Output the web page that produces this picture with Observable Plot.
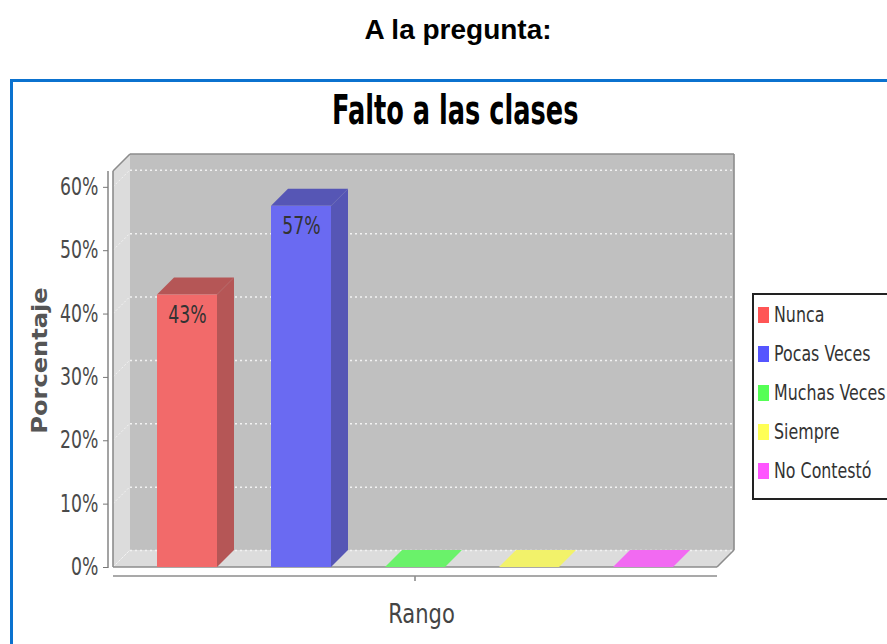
<!DOCTYPE html>
<html>
<head>
<meta charset="utf-8">
<script src="https://cdn.jsdelivr.net/npm/d3@7"></script>
<script src="https://cdn.jsdelivr.net/npm/@observablehq/plot@0.6"></script>
<style>
html,body{margin:0;padding:0;background:#fff;}
body{width:887px;height:644px;overflow:hidden;position:relative;}
#chart{position:absolute;left:0;top:0;}
#frameBox{position:absolute;left:10px;top:79px;width:940px;height:640px;border:3px solid #0b72cf;box-sizing:border-box;pointer-events:none;}
#heading{position:absolute;left:0;top:16px;width:916px;text-align:center;font:bold 28px/28px "Liberation Sans",Arial,sans-serif;color:#000;}
#title{position:absolute;left:0;top:90px;width:911px;text-align:center;font:bold 41px/41px "DejaVu Sans",sans-serif;color:#000;white-space:nowrap;}
#title span{display:inline-block;transform:scaleX(0.625);transform-origin:center;}
#legend{position:absolute;left:752px;top:293px;width:170px;height:207px;border:2px solid #222;box-sizing:border-box;background:#fff;}
.item{height:39px;display:flex;align-items:center;font:22px/22px "DejaVu Sans",sans-serif;color:#333;white-space:nowrap;}
.sw{width:11px;height:16px;margin-left:4px;margin-right:5px;flex:none;}
.lab{display:inline-block;transform:scaleX(0.72);transform-origin:left center;}
</style>
</head>
<body>
<div id="chart"></div>
<div id="frameBox"></div>
<div id="heading">A la pregunta:</div>
<div id="title"><span>Falto a las clases</span></div>
<div id="legend"></div>
<script>
// ---- data ----
const categories = ["Nunca", "Pocas Veces", "Muchas Veces", "Siempre", "No Contestó"];
const percentages = [43, 57, 0, 0, 0];
const seriesColors = ["#ff5555", "#5555ff", "#55ff55", "#ffff55", "#ff55ff"];
const yTicks = [0, 10, 20, 30, 40, 50, 60];
const yMax = 62.5;
const xLabel = "Rango";
const yLabel = "Porcentaje";

// ---- styles ----
const D = 17; // 3D depth in px
const wallGray = "#c0c0c0";
const frontColors = seriesColors.map(c => d3.interpolateRgb(wallGray, c)(0.8));
const sideColors = seriesColors.map(c => d3.interpolateRgb(wallGray, d3.rgb(c).darker(1))(0.8));
const edge = "#8c8c8c";

const rows = categories.map((c, i) => ({category: c, value: percentages[i]}));

function pts(arr) { return arr.map(p => p.join(",")).join(" "); }

function walls(index, scales, values, dims) {
  const y = scales.y;
  const xL = dims.marginLeft, xR = dims.width - dims.marginRight;
  const yT = dims.marginTop, yB = dims.height - dims.marginBottom;
  const g = d3.create("svg:g");
  g.append("polygon").attr("points", pts([[xL+D,yT-D],[xR+D,yT-D],[xR+D,yB-D],[xL+D,yB-D]])).attr("fill", wallGray);
  g.append("polygon").attr("points", pts([[xL,yT],[xL+D,yT-D],[xL+D,yB-D],[xL,yB]])).attr("fill", "#dcdcdc");
  g.append("polygon").attr("points", pts([[xL,yB],[xL+D,yB-D],[xR+D,yB-D],[xR,yB]])).attr("fill", "#dcdcdc");
  for (const t of yTicks) {
    g.append("line").attr("x1", xL).attr("y1", y(t)).attr("x2", xL + D).attr("y2", y(t) - D)
      .attr("stroke", "#fff").attr("stroke-opacity", 0.6).attr("stroke-dasharray", "2,2");
  }
  const lines = [
    [xL+D, yT-D, xR+D, yT-D],
    [xR+D, yT-D, xR+D, yB-D],
    [xL, yT, xL+D, yT-D],
    [xL, yT, xL, yB],
    [xL, yB, xR, yB],
    [xR, yB, xR+D, yB-D],
    [xL-5, yT, xL-5, yB + 1],
    [xL, yB + 9, xR, yB + 9],
    [(xL + xR) / 2, yB + 9, (xL + xR) / 2, yB + 14]
  ];
  for (const [a, b, c, d] of lines) {
    g.append("line").attr("x1", a).attr("y1", b).attr("x2", c).attr("y2", d)
      .attr("stroke", edge).attr("stroke-width", 1.6);
  }
  return g.node();
}

function barFaces(index, scales) {
  const x = scales.x, y = scales.y;
  const bw = typeof x.bandwidth === "function" ? x.bandwidth() : x.bandwidth;
  const g = d3.create("svg:g");
  categories.forEach((c, i) => {
    const v = percentages[i];
    const x0 = x(c), x1 = x0 + bw, yv = y(v), y0 = y(0);
    if (v > 0) {
      g.append("polygon").attr("points", pts([[x1,yv],[x1+D,yv-D],[x1+D,y0-D],[x1,y0]])).attr("fill", sideColors[i]);
      g.append("polygon").attr("points", pts([[x0,yv],[x0+D,yv-D],[x1+D,yv-D],[x1,yv]])).attr("fill", sideColors[i]);
    } else {
      g.append("polygon").attr("points", pts([[x0,y0],[x0+D,y0-D],[x1+D,y0-D],[x1,y0]])).attr("fill", frontColors[i]);
    }
  });
  return g.node();
}

const chart = Plot.plot({
  width: 887,
  height: 644,
  marginLeft: 113,
  marginRight: 170,
  marginTop: 171,
  marginBottom: 77,
  style: {background: "transparent", fontFamily: "DejaVu Sans, sans-serif", overflow: "visible"},
  x: {type: "band", domain: categories, paddingInner: 0.475, paddingOuter: 0.38, axis: null},
  y: {domain: [0, yMax]},
  color: {type: "ordinal", domain: categories, range: frontColors},
  marks: [
    walls,
    Plot.ruleY(yTicks, {dx: D, dy: -D, stroke: "#f2f2f2", strokeWidth: 1.5, strokeDasharray: "2,3"}),
    barFaces,
    Plot.barY(rows, {x: "category", y: "value", fill: "category"}),
    Plot.text(rows.filter(d => d.value > 0), {x: "category", y: "value", text: d => d.value + "%", dy: 20, fontSize: 24, fill: "#333"}),
    Plot.axisY({ticks: yTicks, tickFormat: d => d + "%", tickSize: 5, tickPadding: 5, dx: -5, fontSize: 24, color: "#4a4a4a", stroke: "#777", label: null}),
    Plot.text([xLabel], {frameAnchor: "bottom", dx: 6, dy: 55, fontSize: 26, fill: "#444"}),
    Plot.text([yLabel], {frameAnchor: "left", textAnchor: "middle", dx: -73, dy: -9, rotate: -90, fontSize: 21, fontWeight: "bold", fill: "#555"})
  ]
});
document.getElementById("chart").appendChild(chart);

// condense text like the original rendering
const textScale = {24: 0.72, 26: 0.81, 21: 1.15};
for (const t of chart.querySelectorAll("text")) {
  const fs = Math.round(parseFloat(getComputedStyle(t).fontSize));
  const s = textScale[fs];
  if (!s) continue;
  const x = +t.getAttribute("x") || 0;
  const tr = t.getAttribute("transform") || "";
  t.setAttribute("transform", `${tr} translate(${x},0) scale(${s},1) translate(${-x},0)`);
}

// legend
const legend = document.getElementById("legend");
categories.forEach((c, i) => {
  const item = document.createElement("div");
  item.className = "item";
  const sw = document.createElement("span");
  sw.className = "sw";
  sw.style.background = seriesColors[i];
  const lab = document.createElement("span");
  lab.className = "lab";
  lab.textContent = c;
  item.appendChild(sw);
  item.appendChild(lab);
  legend.appendChild(item);
});
</script>
</body>
</html>
